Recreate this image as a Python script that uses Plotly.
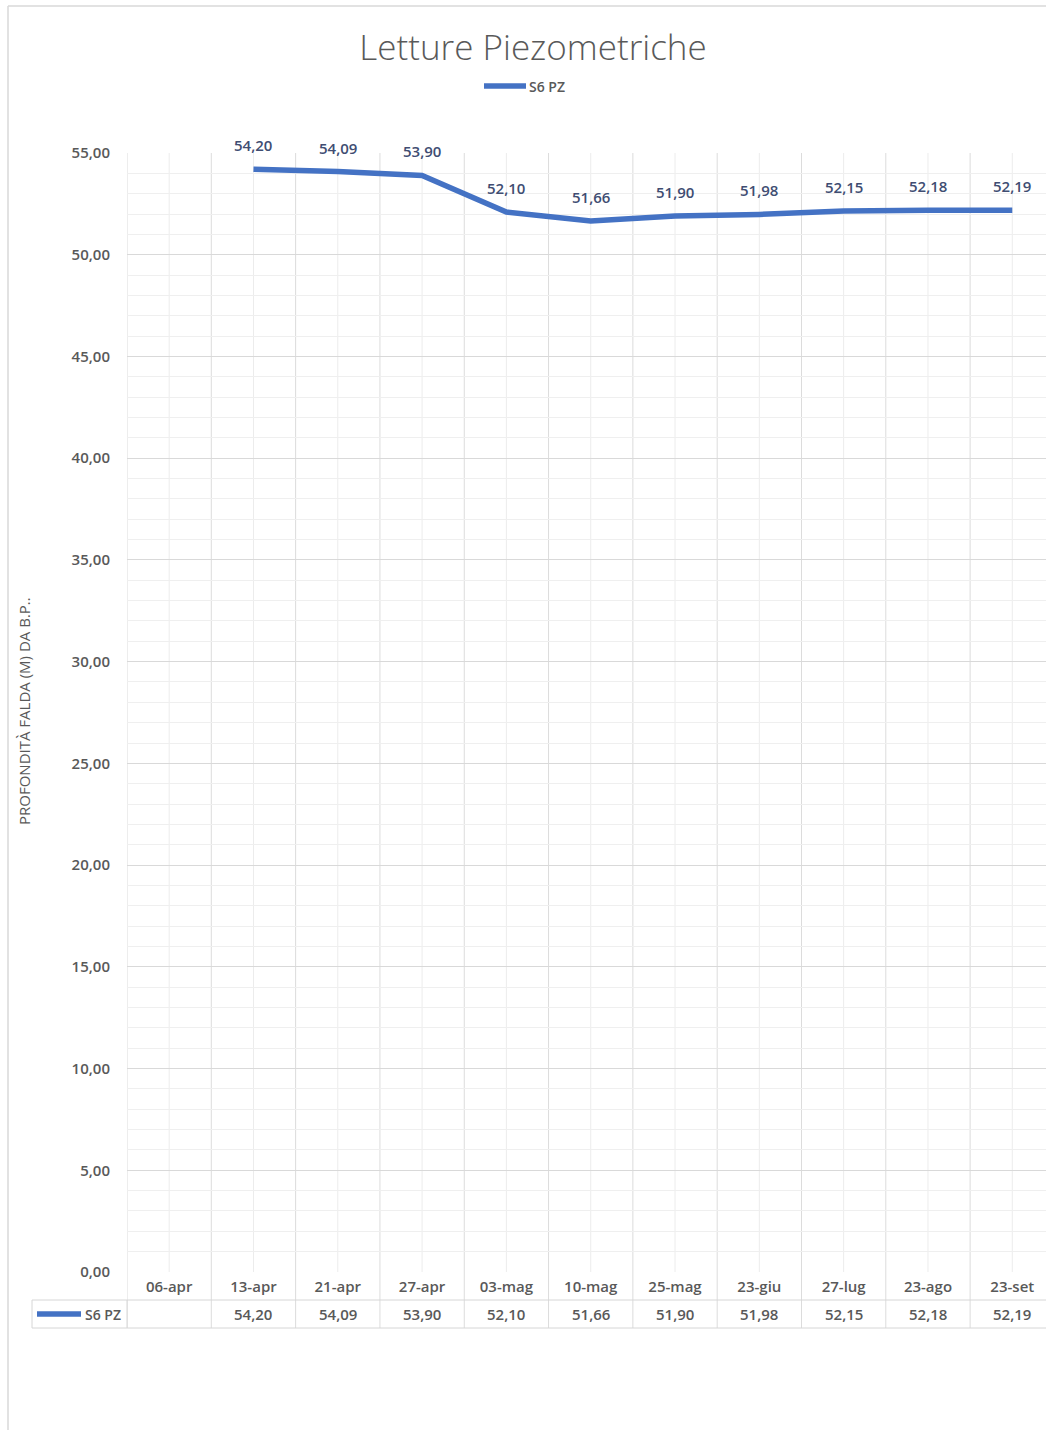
import plotly.graph_objects as go

# Piezometer readings, well S6 PZ (depth of water table, m from ground level)
categories = ["06-apr", "13-apr", "21-apr", "27-apr", "03-mag", "10-mag",
              "25-mag", "23-giu", "27-lug", "23-ago", "23-set"]
values = [None, 54.20, 54.09, 53.90, 52.10, 51.66, 51.90, 51.98, 52.15, 52.18, 52.19]
series_name = "S6 PZ"
chart_title = "Letture Piezometriche"
y_title = "PROFONDITÀ FALDA (M) DA B.P.."

W, H = 1046, 1430
L, R, T, B = 127, 0, 153, 158
PW, PH = W - L - R, H - T - B

LINE_BLUE = "#4472C4"
LABEL_BLUE = "#404D72"
TEXT_GREY = "#595959"
FONT = "Open Sans"


def px_x(px):
    return (px - L) / PW


def px_y(py):
    return (H - B - py) / PH


def fmt(v):
    return f"{v:.2f}".replace(".", ",")


fig = go.Figure()
fig.add_trace(go.Scatter(
    x=categories, y=values, mode="lines", name=series_name,
    line=dict(color=LINE_BLUE, width=5.5, shape="linear"),
    connectgaps=False, hoverinfo="x+y", showlegend=False,
))

shapes = []
# vertical grid: category boundaries (run down through the data table) and centres
row1_bottom = px_y(1300)
row2_bottom = px_y(1328)
for i in range(len(categories) + 1):
    shapes.append(dict(type="line", xref="x", yref="paper", x0=i - 0.5, x1=i - 0.5,
                       y0=row2_bottom, y1=1, line=dict(color="#dcdcdc", width=1),
                       layer="below"))
for i in range(len(categories)):
    shapes.append(dict(type="line", xref="x", yref="paper", x0=i, x1=i,
                       y0=0, y1=1, line=dict(color="#ececec", width=1), layer="below"))
# data table rules
for yy in (row1_bottom, row2_bottom):
    shapes.append(dict(type="line", xref="paper", yref="paper", x0=px_x(32), x1=1,
                       y0=yy, y1=yy, line=dict(color="#d6d6d6", width=1)))
shapes.append(dict(type="line", xref="paper", yref="paper", x0=px_x(32), x1=px_x(32),
                   y0=row1_bottom, y1=row2_bottom, line=dict(color="#d6d6d6", width=1)))
shapes.append(dict(type="line", xref="paper", yref="paper", x0=px_x(127), x1=px_x(127),
                   y0=row1_bottom, y1=row2_bottom, line=dict(color="#d6d6d6", width=1)))
# legend keys: top legend and data-table row
shapes.append(dict(type="line", xref="paper", yref="paper", x0=px_x(484), x1=px_x(526),
                   y0=px_y(86), y1=px_y(86), line=dict(color=LINE_BLUE, width=5.5)))
shapes.append(dict(type="line", xref="paper", yref="paper", x0=px_x(37), x1=px_x(81),
                   y0=px_y(1314), y1=px_y(1314), line=dict(color=LINE_BLUE, width=5.5)))
# chart frame
shapes.append(dict(type="line", xref="paper", yref="paper", x0=px_x(8), x1=px_x(W + 5),
                   y0=px_y(6), y1=px_y(6), line=dict(color="#d9d9d9", width=1.5)))
shapes.append(dict(type="line", xref="paper", yref="paper", x0=px_x(8), x1=px_x(8),
                   y0=px_y(6), y1=px_y(H + 5), line=dict(color="#d9d9d9", width=1.5)))

annotations = []
# data labels above the line
for c, v in zip(categories, values):
    if v is None:
        continue
    annotations.append(dict(x=c, y=v, xref="x", yref="y", text=fmt(v), showarrow=False,
                            yshift=24, yanchor="middle",
                            font=dict(family=FONT, size=15, color=LABEL_BLUE, weight=600)))
# value row of the data table
for c, v in zip(categories, values):
    annotations.append(dict(x=c, y=px_y(1314), xref="x", yref="paper",
                            text="" if v is None else fmt(v), showarrow=False,
                            xanchor="center", yanchor="middle",
                            font=dict(family=FONT, size=15, color=TEXT_GREY, weight=600)))
annotations.append(dict(x=px_x(123), y=px_y(1314), xref="paper", yref="paper",
                        text=series_name, xanchor="right", yanchor="middle", showarrow=False,
                        font=dict(family=FONT, size=14, color=TEXT_GREY, weight=600)))
# top legend label
annotations.append(dict(x=px_x(527), y=px_y(86), xref="paper", yref="paper",
                        text=series_name, xanchor="left", yanchor="middle", showarrow=False,
                        font=dict(family=FONT, size=14, color=TEXT_GREY, weight=600)))
# y-axis title
annotations.append(dict(x=px_x(24), y=px_y(711), xref="paper", yref="paper",
                        text=y_title, textangle=-90, showarrow=False,
                        xanchor="center", yanchor="middle",
                        font=dict(family=FONT, size=15, color=TEXT_GREY)))

fig.update_layout(
    width=W, height=H, autosize=False,
    margin=dict(l=L, r=R, t=T, b=B),
    paper_bgcolor="white", plot_bgcolor="white",
    separators=",.",
    font=dict(family=FONT, color=TEXT_GREY),
    title=dict(text=chart_title, x=533 / W, xref="container", xanchor="center",
               y=1 - 48 / H, yref="container", yanchor="middle",
               font=dict(family=FONT, size=35, color=TEXT_GREY, weight=300)),
    showlegend=False,
    xaxis=dict(type="category", categoryorder="array", categoryarray=categories,
               range=[-0.5, len(categories) - 0.6], showgrid=False, zeroline=False,
               showline=False, ticks="", ticklabelstandoff=4,
               tickfont=dict(family=FONT, size=15, color=TEXT_GREY, weight=600)),
    yaxis=dict(range=[0, 55], dtick=5, tick0=0, tickformat=".2f",
               showgrid=True, gridcolor="#d9d9d9", gridwidth=1.3,
               minor=dict(dtick=1, showgrid=True, gridcolor="#efefef", gridwidth=1),
               zeroline=False, showline=False, ticks="", ticklabelstandoff=16,
               tickfont=dict(family=FONT, size=15, color=TEXT_GREY, weight=600)),
    shapes=shapes,
    annotations=annotations,
)

fig.write_html("out.html")
